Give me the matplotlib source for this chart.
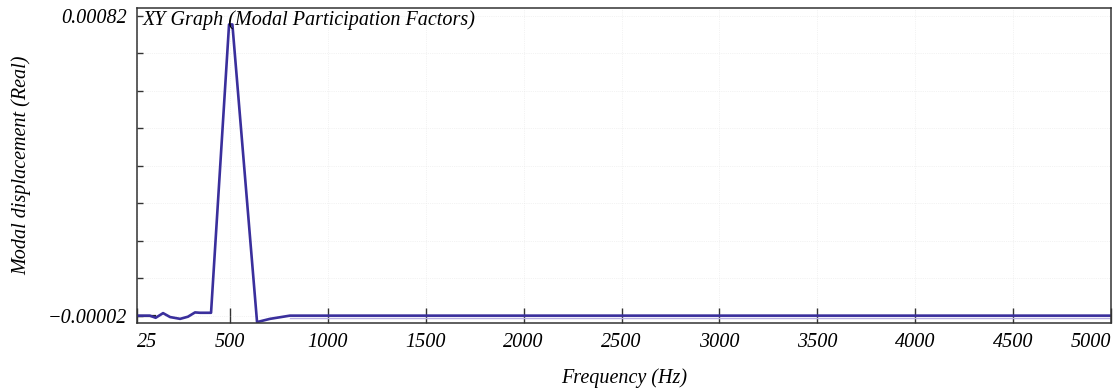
import numpy as np
import matplotlib.pyplot as plt

# Frequency response (Hz, displacement)
freq_hz = [25, 90, 120, 158, 194, 245, 285, 321, 347, 403, 495, 512, 638, 704, 806, 5000]
disp_main = [-0.000019, -0.000019, -0.000025, -0.000012, -0.000023, -0.000028,
             -0.000022, -0.000010, -0.000011, -0.000011, 0.000795, 0.000795,
             -0.000037, -0.000028, -0.000019, -0.000019]

# Secondary traces that peek out from under the main curve
freq_black = [25, 118]
disp_black = [-0.000019, -0.000019]
freq_light = [806, 5000]
disp_light = [-0.000026, -0.000026]

x_ticks = [25, 500, 1000, 1500, 2000, 2500, 3000, 3500, 4000, 4500, 5000]
y_ticks = np.linspace(-0.00002, 0.00082, 9)
y_labels = ["\u22120.00002"] + [""] * 7 + ["0.00082"]

FS = 14.5
plt.rcParams["font.family"] = ["Liberation Serif", "DejaVu Serif"]
plt.rcParams["font.style"] = "italic"

fig = plt.figure(figsize=(11.16, 3.92), dpi=100)
ax = fig.add_axes([0.1228, 0.176, 0.8727, 0.8036])

ax.plot(freq_light, disp_light, color="#b8b0e0", linewidth=1.0)
ax.plot(freq_black, disp_black, color="#222222", linewidth=1.6)
ax.plot(freq_hz, disp_main, color="#3a2f9c", linewidth=1.9)

ax.set_xlim(25, 5000)
ax.set_ylim(-0.0000396, 0.000841)

ax.set_xticks(x_ticks)
ax.set_xticklabels([str(t) for t in x_ticks], fontsize=FS)
xl = ax.get_xticklabels()
xl[0].set_horizontalalignment("left")
xl[-1].set_horizontalalignment("right")
ax.tick_params(axis="x", direction="in", length=11, width=1.0, color="#333333", pad=7)

ax.set_yticks(y_ticks)
ax.set_yticklabels(y_labels, fontsize=FS)
ax.tick_params(axis="y", direction="in", length=4.5, width=1.0, color="#333333", pad=7)

ax.grid(True, color="#e8e8e8", linestyle=":", linewidth=0.5)
for s in ax.spines.values():
    s.set_color("#333333")
    s.set_linewidth(1.1)

ax.text(0.006, 0.96, "XY Graph (Modal Participation Factors)", transform=ax.transAxes,
        fontsize=FS, va="center", ha="left")

ax.set_xlabel("Frequency (Hz)", fontsize=FS, labelpad=12)
ax.set_ylabel("Modal displacement (Real)", fontsize=FS, labelpad=12)

fig.savefig("out.png", dpi=100)
